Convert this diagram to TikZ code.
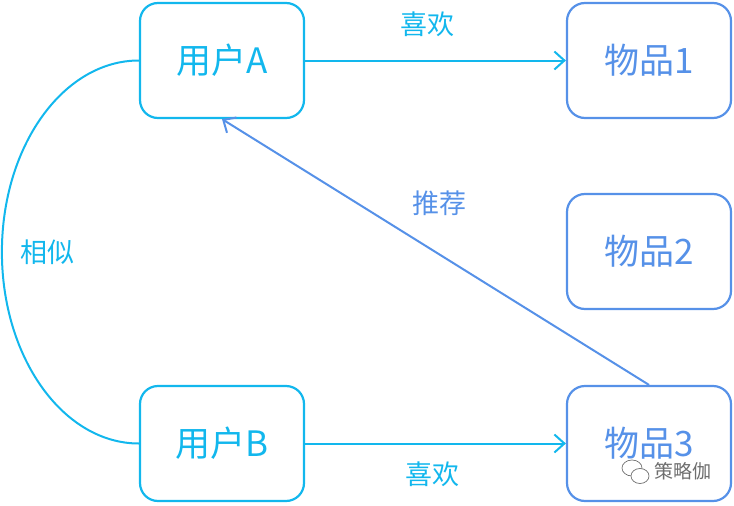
\documentclass[tikz,border=0pt]{standalone}
\usepackage{fontspec}
\setmainfont{Noto Sans CJK SC}
\usetikzlibrary{arrows.meta}
\definecolor{ucyan}{RGB}{18,183,237}
\definecolor{iblue}{RGB}{86,145,232}
\definecolor{wm}{RGB}{110,110,110}
\begin{document}
\begin{tikzpicture}[x=1pt,y=-1pt,
  box/.style={draw,line width=2.2pt,rounded corners=18pt,minimum width=164pt,minimum height=115pt,inner sep=0pt,font=\fontsize{35}{35}\selectfont},
  ubox/.style={box,draw=ucyan,text=ucyan},
  ibox/.style={box,draw=iblue,text=iblue},
  lbl/.style={font=\fontsize{27}{27}\selectfont,inner sep=0pt},
  arr/.style={line width=2pt,-{Straight Barb[length=10pt,width=18pt,line width=2pt]}}]
\useasboundingbox (0,0) rectangle (734,506);
\node[ubox] (ua) at (222,60.5) {用户A};
\node[ibox] (i1) at (649,60.5) {物品1};
\node[ibox] (i2) at (649,251.5) {物品2};
\node[ubox] (ub) at (222,443.5) {用户B};
\node[ibox] (i3) at (649,443.5) {物品3};
\draw[arr,ucyan] (ua.east) -- (i1.west);
\draw[arr,ucyan] (ub.east) -- (i3.west);
\draw[arr,iblue] (i3.north) -- (ua.south);
\draw[ucyan,line width=2pt] (ua.west) arc[start angle=270,end angle=90,x radius=137,y radius=191.5];
\node[lbl,text=ucyan] (l1) at (427,24) {喜欢};
\node[lbl,text=ucyan] (l2) at (432,474) {喜欢};
\node[lbl,text=iblue] (l3) at (439,203) {推荐};
\node[lbl,text=ucyan] (l4) at (47,252) {相似};
\node[inner sep=0pt,font=\fontsize{19}{19}\selectfont,text=wm] (w) at (683,471) {策略伽};
\draw[wm,line width=0.7pt] (632,468) ellipse[x radius=10,y radius=8];
\draw[wm,line width=0.7pt,fill=white] (640,476) ellipse[x radius=9,y radius=7.5];
\end{tikzpicture}
\end{document}
